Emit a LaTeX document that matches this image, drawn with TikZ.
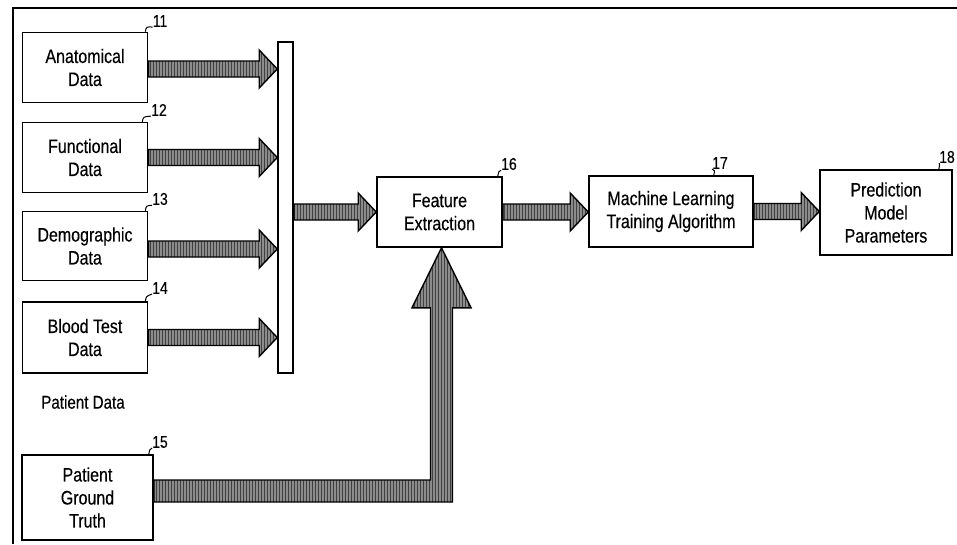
\documentclass[tikz,border=0pt]{standalone}
\usepackage{fontspec}
\setmainfont{Liberation Sans}
\newfontfamily\cond[FakeStretch=0.82,FakeBold=0.3]{Liberation Sans}
\usetikzlibrary{calc,patterns}
\begin{document}
\begin{tikzpicture}[x=1pt,y=-1pt,
  box/.style={draw=black,line width=1.6pt,fill=white,align=center,inner sep=0pt,
    font=\cond\fontsize{19.5}{23}\selectfont},
  num/.style={font=\cond\fontsize{17}{17}\selectfont,inner sep=0pt},
  lead/.style={line width=1pt},
  blk/.style={draw=black,line width=1.4pt,line join=miter,
    preaction={fill=black!45},
    preaction={pattern=vertical lines,pattern color=black!75}}]
\newcommand{\harr}[2]{%
  \path[blk] let \p1=(#1), \p2=(#2) in
    (\x1,\y1+8pt) -- (\x2-18pt,\y1+8pt) -- (\x2-18pt,\y1+19pt) -- (\x2,\y1)
    -- (\x2-18pt,\y1-19pt) -- (\x2-18pt,\y1-8pt) -- (\x1,\y1-8pt) -- cycle;}
\useasboundingbox (0,0) rectangle (957,544);
\draw[line width=2pt] (13,544) -- (13,8) -- (957,8);

% boxes
\node[box,minimum width=125pt,minimum height=70pt] (a11) at (85,67.5) {Anatomical\\Data};
\node[box,minimum width=125pt,minimum height=70pt] (a12) at (85,157.5) {Functional\\Data};
\node[box,minimum width=125pt,minimum height=69pt] (a13) at (85,246) {Demographic\\Data};
\node[box,minimum width=125pt,minimum height=71pt] (a14) at (85,337.5) {Blood Test\\Data};
\node[box,minimum width=131pt,minimum height=85pt] (gt) at (87.5,497.5) {Patient\\Ground\\Truth};
\node[font=\cond\fontsize{18.5}{18.5}\selectfont,inner sep=0pt] (pd) at (83,402) {Patient Data};
\node[draw=black,line width=1.6pt,fill=white,minimum width=15pt,minimum height=331pt,inner sep=0pt] (bar) at (285.5,207.5) {};
\node[box,minimum width=125pt,minimum height=70pt] (fe) at (439.5,212) {Feature\\Extraction};
\node[box,minimum width=164pt,minimum height=71pt] (ml) at (671,211.5) {Machine Learning\\Training Algorithm};
\node[box,minimum width=132pt,minimum height=85pt] (pr) at (886,212.5) {Prediction\\Model\\Parameters};

% reference numerals
\node[num] (n11) at (160,21) {11};
\node[num] (n12) at (159,110) {12};
\node[num] (n13) at (160,199) {13};
\node[num] (n14) at (160,288) {14};
\node[num] (n15) at (160,442) {15};
\node[num] (n16) at (509,164) {16};
\node[num] (n17) at (720,163) {17};
\node[num] (n18) at (947,157) {18};

\draw[lead] ($(a11.north east)+(-3,0)$) .. controls +(1,-5) .. (n11.south west);
\draw[lead] ($(a12.north east)+(-6,0)$) .. controls +(1,-5) .. (n12.south west);
\draw[lead] ($(a13.north east)+(-3,0)$) .. controls +(1,-5) .. (n13.south west);
\draw[lead] ($(a14.north east)+(-3,0)$) .. controls +(1,-5) .. (n14.south west);
\draw[lead] ($(gt.north east)+(-5,0)$) .. controls +(1,-5) .. (n15.south west);
\draw[lead] ($(fe.north east)+(-5,0)$) .. controls +(1,-5) .. (n16.south west);
\draw[lead] ($(ml.north east)+(-40,0)$) .. controls +(1,-5) .. (n17.south west);
\draw[lead] ($(pr.north east)+(-14,0)$) .. controls +(1,-5) .. (n18.south west);

% block arrows
\coordinate (s11) at ($(a11.east)+(0,1.5)$);
\coordinate (s12) at (a12.east);
\coordinate (s13) at ($(a13.east)+(0,3)$);
\coordinate (s14) at (a14.east);
\harr{s11}{bar.west |- s11}
\harr{s12}{bar.west |- s12}
\harr{s13}{bar.west |- s13}
\harr{s14}{bar.west |- s14}
\coordinate (sb) at (bar.east |- fe.west);
\harr{sb}{fe.west}
\harr{fe.east}{ml.west |- fe.east}
\harr{ml.east}{pr.west |- ml.east}

\coordinate (gts) at ($(gt.east)+(0,-6.5)$);
\coordinate (fes) at ($(fe.south)+(2,0)$);
\path[blk] let \p1=(gts), \p2=(fes) in
  (\x1,\y1+11pt) -- (\x2-11pt,\y1+11pt) -- (\x2-11pt,\y2-60pt) -- (\x2-29.5pt,\y2-60pt)
  -- (\x2,\y2) -- (\x2+29.5pt,\y2-60pt) -- (\x2+11pt,\y2-60pt) -- (\x2+11pt,\y1-11pt)
  -- (\x1,\y1-11pt) -- cycle;
\end{tikzpicture}
\end{document}
